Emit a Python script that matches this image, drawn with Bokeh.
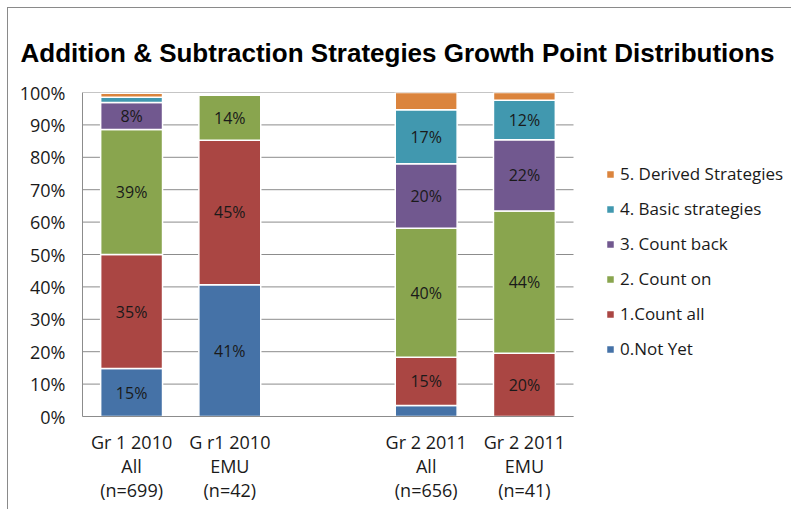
from bokeh.plotting import figure
from bokeh.models import (ColumnDataSource, Range1d, FixedTicker,
                          PrintfTickFormatter, Legend, LegendItem)
from bokeh.core.properties import value
from bokeh.embed import file_html
from bokeh.resources import INLINE

# ---- data ----
categories = ["Gr 1 2010\nAll\n(n=699)", "G r1 2010\nEMU\n(n=42)", "",
              "Gr 2 2011\nAll\n(n=656)", "Gr 2 2011\nEMU\n(n=41)"]
series_names = ["0.Not Yet", "1.Count all", "2. Count on", "3. Count back",
                "4. Basic strategies", "5. Derived Strategies"]
not_yet     = [14.8, 40.7, 0, 3.4, 0]
count_all   = [35.2, 44.6, 0, 14.9, 19.5]
count_on    = [38.6, 13.9, 0, 39.8, 43.9]
count_back  = [8.3, 0, 0, 19.9, 22.0]
basic       = [1.6, 0, 0, 16.7, 12.2]
derived     = [1.3, 0, 0, 5.3, 2.4]
y_ticks = [0, 10, 20, 30, 40, 50, 60, 70, 80, 90, 100]
title_text = "Addition & Subtraction Strategies Growth Point Distributions"

colors = ["#4572A7", "#AA4643", "#89A54E", "#71588F", "#4198AF", "#DB843D"]
series = [not_yet, count_all, count_on, count_back, basic, derived]

FONT = "Open Sans"
TXT = "#1a1a1a"
GRID = "#8c8c8c"

W, H = 784, 502
LEFT, TOP, BOTTOM = 74, 84, 94
CHART_PX = 491                      # pixel width of the bar area
slot_px = CHART_PX / len(categories)
xpos = list(range(len(categories)))
x_start = xpos[0] - 0.5
x_chart_end = xpos[-1] + 0.5
x_end = x_start + (W - LEFT) / slot_px

p = figure(x_range=Range1d(x_start, x_end), y_range=Range1d(0, 100),
           width=W, height=H, output_backend="svg", toolbar_location=None,
           min_border_left=LEFT, min_border_right=0,
           min_border_top=TOP, min_border_bottom=BOTTOM)
p.styles = {"border-left": "1px solid #8a8a8a", "border-top": "1px solid #8a8a8a",
            "margin-left": "7px", "margin-top": "7px"}
p.outline_line_color = None
p.background_fill_color = "white"
p.border_fill_color = "white"

# title
p.title.text = title_text
p.title.text_font = "Liberation Sans"
p.title.text_font_style = "bold"
p.title.text_font_size = "26px"
p.title.text_color = "#000000"
p.title.align = "left"
p.title.offset = -62
p.title.standoff = 49

# axes
p.xgrid.grid_line_color = None
p.ygrid.grid_line_color = None
p.yaxis.ticker = FixedTicker(ticks=y_ticks)
p.yaxis.formatter = PrintfTickFormatter(format="%d%%")
p.xaxis.ticker = FixedTicker(ticks=[x for x, c in zip(xpos, categories) if c])
p.xaxis.major_label_overrides = {x: c for x, c in zip(xpos, categories) if c}
p.xaxis.bounds = (x_start, x_chart_end)
for ax in (p.xaxis[0], p.yaxis[0]):
    ax.axis_line_color = GRID
    ax.major_tick_line_color = None
    ax.minor_tick_line_color = None
    ax.major_tick_in = 0
    ax.major_tick_out = 0
    ax.major_label_text_font = FONT
    ax.major_label_text_font_size = "18px"
    ax.major_label_text_color = TXT
p.yaxis.major_label_standoff = 17
p.xaxis.major_label_standoff = 13
p.xaxis.major_label_text_line_height = 1.0

# horizontal gridlines over the bar area only
p.segment(x0=[x_start] * len(y_ticks), x1=[x_chart_end] * len(y_ticks),
          y0=y_ticks, y1=y_ticks, line_color=GRID, line_width=1)

# stacked bars
data = {"x": xpos}
keys = []
for i, s in enumerate(series):
    k = "s%d" % i
    data[k] = s
    keys.append(k)
src = ColumnDataSource(data)
renderers = p.vbar_stack(keys, x="x", width=0.63, color=colors, source=src,
                         line_color="white", line_width=1.5)

# segment labels
lx, ly, lt = [], [], []
for j, xv in enumerate(xpos):
    base = 0.0
    for s in series:
        v = s[j]
        if v >= 8:
            lx.append(xv)
            ly.append(base + v / 2)
            lt.append(f"{v:.0f}%")
        base += v
lsrc = ColumnDataSource(dict(x=lx, y=ly, t=lt))
p.text(x="x", y="y", text="t", source=lsrc, text_align="center",
       text_baseline="middle", text_font=value(FONT), text_font_size="16px",
       text_color=TXT)

# legend
items = [LegendItem(label=series_names[i], renderers=[renderers[i]])
         for i in reversed(range(len(series_names)))]
legend = Legend(items=items, location=(523, 56), padding=0, margin=0,
                glyph_width=10, glyph_height=10, label_standoff=5,
                label_height=20, spacing=12,
                label_text_font=FONT, label_text_font_size="17px",
                label_text_color=TXT, border_line_color=None,
                background_fill_alpha=0)
p.add_layout(legend, "center")

open("out.html", "w").write(file_html(p, INLINE))
